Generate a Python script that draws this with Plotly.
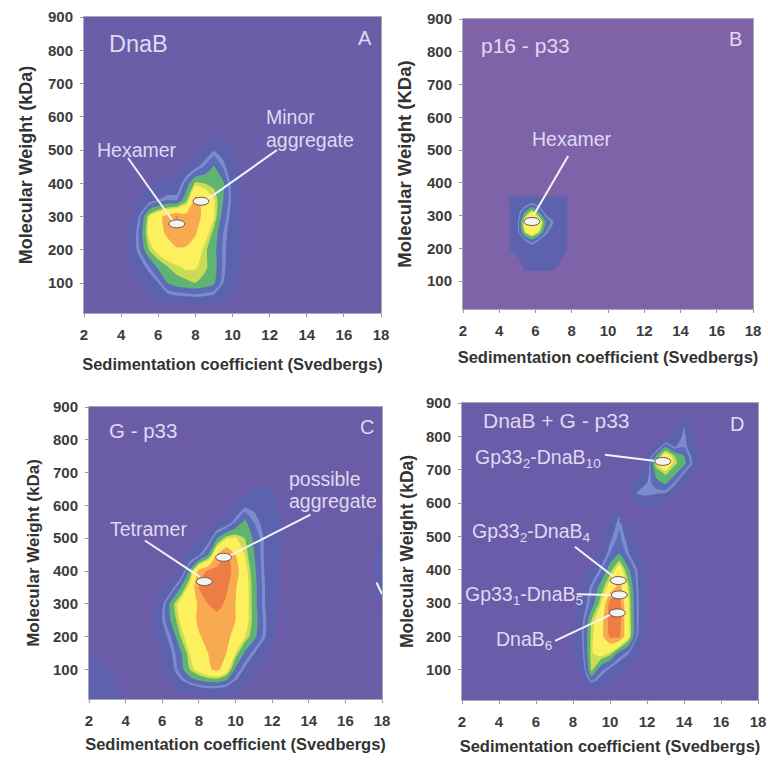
import plotly.graph_objects as go

# ---------- data (z = contour band index, rows listed top-down) ----------
A_x = [4, 4.5, 5, 5.5, 6, 6.5, 7, 7.5, 8, 8.5, 9, 9.5, 10, 10.5, 11]
A_y = [550, 500, 450, 400, 350, 300, 250, 200, 150, 100, 50, 20]
A_z = [
    [0, 0, 0, 0, 0, 0, 0, 0, 0, 0, .3, .2, 0, 0, 0],
    [0, 0, 0, 0, 0, 0, 0, .3, .8, 1.5, 2.4, 1.9, 1, .3, 0],
    [0, 0, 0, 0, 0, 0, .6, 1.2, 2.2, 3.1, 4.1, 2.9, 1.5, .6, 0],
    [0, 0, .2, .6, 1, 1.3, 1.5, 3.4, 5.2, 5, 4.7, 4.2, 2, 1, 0],
    [0, .2, 1, 2, 2.5, 3, 3, 4.7, 7.5, 6.5, 5.6, 4, 2.2, 1, .2],
    [0, .8, 2.7, 5.5, 6.7, 7.4, 8.1, 7.5, 7.6, 6.6, 5.6, 3.5, 2, 1, .2],
    [.2, 1.2, 3.3, 5.8, 6.6, 7.2, 7.6, 7.4, 7.1, 6.1, 4.7, 3, 1.8, 1, .2],
    [.2, 1.5, 3, 5, 6, 6.5, 6.9, 6.9, 6.5, 5.2, 4.4, 2.8, 1.8, 1, .1],
    [0, 1, 1.8, 3, 4.3, 5, 5.4, 5.7, 5.6, 5.2, 4.5, 2.8, 1.6, .8, 0],
    [0, .1, .6, 1.5, 2.5, 4, 4.6, 4.8, 5, 4.7, 4.2, 2.5, 1.5, .6, 0],
    [0, 0, .5, 1, 1.3, 1.6, 1.8, 1.9, 2, 1.9, 1.7, 1.2, .5, 0, 0],
    [0] * 15,
]

B_x = [4.4, 4.6, 5, 5.4, 5.8, 6.2, 6.6, 7, 7.4, 7.7, 7.95]
B_y = [365, 355, 335, 310, 280, 250, 225, 200, 170, 135, 115]
B_z = [
    [0] * 11,
    [0, 1.2, 1.3, 1.3, 1.3, 1.3, 1.3, 1.3, 1.3, 1.3, 0],
    [0, 1.2, 1.5, 2, 2.9, 2, 1.5, 1.3, 1.3, 1.3, 0],
    [0, 1.2, 1.8, 4, 5.7, 4, 2, 1.5, 1.3, 1.3, 0],
    [0, 1.2, 2.2, 6.1, 6.9, 6.4, 3.8, 2.5, 1.3, 1.3, 0],
    [0, 1.2, 1.9, 5.3, 6.5, 5.3, 2.8, 1.6, 1.3, 1.3, 0],
    [0, 1.2, 1.5, 2.5, 3.8, 2.5, 1.7, 1.3, 1.3, 1.3, 0],
    [0, 1.1, 1.3, 1.3, 1.5, 1.4, 1.3, 1.3, 1.3, 1.2, 0],
    [0, 0, .9, 1.3, 1.3, 1.3, 1.3, 1.3, 1.2, .5, 0],
    [0, 0, .4, 1.1, 1.2, 1.2, 1.2, 1.1, .6, 0, 0],
    [0] * 11,
]

C_x = [5, 5.5, 6, 6.5, 7, 7.5, 8, 8.5, 9, 9.5, 10, 10.5, 11, 11.5, 12, 12.5, 13]
C_y = [700, 650, 600, 550, 500, 450, 400, 350, 300, 250, 200, 150, 100, 70, 50, 20]
C_z = [
    [0] * 17,
    [0, 0, 0, 0, 0, 0, 0, 0, 0, 0, 0, .3, 1, 1.1, 1.1, .5, 0],
    [0, 0, 0, 0, 0, 0, 0, 0, 0, .2, 1.2, 2.2, 2.2, 1.3, 1.2, .8, 0],
    [0, 0, 0, 0, 0, 0, 0, 0, 1, 1.6, 3, 4.3, 3, 2.2, 1.2, 1, 0],
    [0, 0, 0, 0, 0, .3, 1, 1.8, 4, 5.4, 5.6, 5, 3.8, 2.6, 1.4, 1, .2],
    [0, 0, 0, 0, .5, 1.3, 2.3, 4, 7, 8.3, 7, 5.5, 4.1, 2.6, 1.4, 1, .2],
    [0, 0, 0, .4, 1.3, 4.2, 7.4, 8.2, 8.4, 8.5, 7.6, 6, 4.4, 2.7, 1.4, .9, 0],
    [0, 0, .8, 2, 4, 6, 8, 8.4, 8.5, 8.2, 7.1, 6.2, 4.6, 2.8, 1.5, .8, 0],
    [0, .8, 2.2, 4.5, 6.1, 6.6, 7.1, 8, 8.4, 7.8, 7, 6.2, 4.6, 2.8, 1.5, .6, 0],
    [0, 1, 2.5, 4.2, 5.7, 6.5, 7.2, 7.4, 7.6, 7.6, 7, 6.1, 4.7, 3, 1.6, .2, 0],
    [0, .8, 1.8, 3.1, 5, 6.3, 6.9, 7.3, 7.4, 7.3, 6.6, 5.6, 4.4, 2.9, 1.5, 0, 0],
    [0, 0, 1.2, 2.4, 3.8, 5.6, 6.5, 7, 7.5, 7, 5.5, 3.9, 2.6, 1.5, .6, 0, 0],
    [0, 0, 1, 2, 3.5, 5, 6, 6.8, 7.3, 6.2, 3.8, 2.3, 1.3, .5, 0, 0, 0],
    [0, 0, .5, 1.2, 2.5, 3.6, 4.3, 4.7, 4.8, 4.2, 2.7, 1.5, .5, 0, 0, 0, 0],
    [0, 0, 0, .8, 1.5, 2.2, 2.7, 3, 3, 2.6, 1.6, .8, 0, 0, 0, 0, 0],
    [0, 0, 0, 0, .4, .7, 1, 1, 1, .8, .4, 0, 0, 0, 0, 0, 0],
]
C_corner_x = [2, 2.5, 3, 3.5, 4]
C_corner_y = [170, 130, 90, 50, 10]
C_corner_z = [
    [0, 0, 0, 0, 0],
    [1.2, 1, .3, 0, 0],
    [1.4, 1.3, 1.1, .3, 0],
    [1.4, 1.4, 1.3, 1.1, 0],
    [1.4, 1.4, 1.3, 1.2, 0],
]
C_edge_x = [17, 17.4, 17.8, 18]
C_edge_y = [520, 480, 400, 320, 270]
C_edge_z = [
    [0, 0, 0, 0],
    [0, .4, 1.2, 1.3],
    [0, .6, 1.3, 1.4],
    [0, .5, 1.2, 1.3],
    [0, 0, 0, 0],
]

D_low_x = [7.5, 8, 8.5, 9, 9.5, 10, 10.5, 11, 11.5, 12, 12.5]
D_low_y = [600, 560, 500, 450, 400, 350, 300, 250, 200, 150, 100, 70, 40, 20]
D_low_z = [
    [0] * 11,
    [0, 0, 0, 0, 0, .8, 2.6, .8, 0, 0, 0],
    [0, 0, 0, 0, .6, 2.2, 3.2, 2, .7, 0, 0],
    [0, 0, 0, .4, 1.3, 3, 3.9, 2.6, 1.2, .4, 0],
    [0, 0, .6, 1.3, 2.8, 4.6, 6.3, 4.2, 2.4, 1, 0],
    [0, .3, 1.2, 2.8, 4.4, 6, 7.5, 5.2, 2.6, 1.1, 0],
    [0, .6, 1.7, 3.4, 5.4, 8.5, 8.5, 5.6, 2.7, 1.1, 0],
    [0, .8, 2.2, 5, 6.4, 8.5, 8.5, 5.8, 2.7, 1, 0],
    [0, .9, 2.6, 5.3, 6.5, 8.2, 8.2, 5.8, 2.5, .8, 0],
    [0, .7, 2.3, 5.4, 6, 5.4, 3.6, 2.6, 1.2, 0, 0],
    [0, .3, 1.5, 5.2, 3.3, 2.2, 1.4, .6, 0, 0, 0],
    [0, 0, .7, 3.3, 2, 1, .4, 0, 0, 0, 0],
    [0, 0, 0, .6, .4, 0, 0, 0, 0, 0, 0],
    [0] * 11,
]
D_high_x = [10.5, 11, 11.5, 12, 12.5, 13, 13.5, 14, 14.5, 15, 15.5]
D_high_y = [880, 860, 830, 800, 770, 740, 720, 690, 660, 630, 605, 570, 540]
D_high_z = [
    [0] * 11,
    [0, 0, 0, 0, 0, 0, 0, .4, 0, 0, 0],
    [0, 0, 0, 0, 0, 0, .8, 2.6, .6, 0, 0],
    [0, 0, 0, 0, 0, .5, 1.5, 2.8, 1.2, 0, 0],
    [0, 0, 0, 0, 1.3, 3.8, 2.4, 2.9, 1.6, .3, 0],
    [0, 0, 0, 1.2, 4.2, 6.5, 5, 4.1, 2, .5, 0],
    [0, 0, 0, 1.6, 5.6, 6.6, 5.2, 4.4, 2.3, .5, 0],
    [0, 0, .8, 2, 4.4, 5.2, 4.4, 2.6, 1.3, 0, 0],
    [0, 0, 1.5, 2.5, 3.6, 4.2, 2.8, 1.3, 0, 0, 0],
    [0, .8, 2.7, 2.7, 2.6, 2.5, 1.5, .5, 0, 0, 0],
    [0, .3, 1.1, 2, 1.5, 1, .5, 0, 0, 0, 0],
    [0, 0, .2, .6, .3, 0, 0, 0, 0, 0, 0],
    [0] * 11,
]

x_ticks = [2, 4, 6, 8, 10, 12, 14, 16, 18]
y_ticks = [100, 200, 300, 400, 500, 600, 700, 800, 900]

panel_letters = ["A", "B", "C", "D"]
panel_names = ["DnaB", "p16 - p33", "G - p33", "DnaB + G - p33"]
y_titles = ["Molecular Weight (kDa)", "Molecular Weight (KDa)", "Molecular Weight (kDa)", "Molecular Weight (kDa)"]
x_title = "Sedimentation coefficient (Svedbergs)"

# ellipse centres per panel
A_spots = [(7.0, 278), (8.3, 346)]
B_spots = [(5.8, 282)]
C_spots = [(8.3, 368), (9.35, 442)]
D_spots = [(12.85, 725), (10.45, 368), (10.5, 325), (10.4, 271)]

# leader lines (start, end) per panel
A_leaders = [((4.37, 476), (6.8, 285)), ((12.4, 500), (8.6, 350))]
B_leaders = [((7.8, 482), (5.9, 302))]
C_leaders = [((5.05, 493), (8.05, 382)), ((14.1, 572), (9.5, 442))]
D_leaders = [((9.72, 745), (12.7, 725)), ((8.1, 469), (10.25, 377)), ((8.2, 327), (10.2, 325)), ((7.03, 187), (10, 265))]
C_slash = [((17.7, 365), (18, 330))]

# labels: text, x, y per panel
A_labels = [("Hexamer", 4.86, 501), ("Minor", 13.1, 600), ("aggregate", 14.2, 530)]
B_labels = [("Hexamer", 8.0, 534)]
C_labels = [("Tetramer", 5.27, 528), ("possible", 14.9, 680), ("aggregate", 15.3, 612)]
D_labels = [
    ("Gp33<sub>2</sub>-DnaB<sub>10</sub>", 6.13, 735),
    ("Gp33<sub>2</sub>-DnaB<sub>4</sub>", 5.77, 512),
    ("Gp33<sub>1</sub>-DnaB<sub>5</sub>", 5.4, 322),
    ("DnaB<sub>6</sub>", 5.34, 187),
]

# ---------- style ----------
bg_colors = ["#6a5ea8", "#7f63a9", "#6b5ca8", "#6a5ca8"]
label_color = "#dfd9f0"
W, H = 768, 760
boxes = [(84, 381, 17, 313, 10), (463, 753, 19, 309, 15), (89, 382, 407, 699, 10), (462, 758, 403, 700, 10)]
name_pos = [(.077, .91), (.055, .91), (.06, .92), (.064, .94)]
name_size = [23.5, 21, 20.5, 21]
letter_pos = [(.946, .93), (.94, .93), (.95, .93), (.93, .93)]
x_standoff = [16, 13, 10, 11]
y_standoff = [10, 10, 9, 7]
y_title_size = [18, 18.5, 17, 17.5]

# band colours for levels of width 0.5 from 0 to 9
blue_out, ring, blue_in = "#5c62ae", "#7a8cca", "#5c6cb8"
green, lime, yellow = "#5eb470", "#c8dc56", "#fdf05e"
orange, red = "#f8aa50", "#ef7b45"
bands = [blue_out] * 3 + [ring] + [blue_in] * 2 + [green] * 2 + [lime] + [yellow] * 3 + [orange] * 2 + [red] * 2


def stepped(bg):
    cols = [bg, bg] + bands
    n = len(cols)
    out = []
    for i, c in enumerate(cols):
        out += [[i / n, c], [(i + 1) / n, c]]
    return out


fig = go.Figure()
shapes, annots = [], []


def add_blob(idx, xs, ys, zs):
    suffix = "" if idx == 0 else str(idx + 1)
    fig.add_trace(go.Contour(
        x=xs, y=ys[::-1], z=zs[::-1],
        xaxis="x" + suffix, yaxis="y" + suffix,
        autocontour=False, zmin=0, zmax=9,
        contours=dict(start=0, end=9, size=0.5, coloring="fill", showlines=False),
        colorscale=stepped(bg_colors[idx]), showscale=False,
        line=dict(width=0, smoothing=0.5), hoverinfo="skip",
    ))


add_blob(0, A_x, A_y, A_z)
add_blob(1, B_x, B_y, B_z)
add_blob(2, C_x, C_y, C_z)
add_blob(2, C_corner_x, C_corner_y, C_corner_z)
add_blob(2, C_edge_x, C_edge_y, C_edge_z)
add_blob(3, D_low_x, D_low_y, D_low_z)
add_blob(3, D_high_x, D_high_y, D_high_z)

spots = [A_spots, B_spots, C_spots, D_spots]
leaders = [A_leaders, B_leaders, C_leaders + C_slash, D_leaders]
labels = [A_labels, B_labels, C_labels, D_labels]
layout = {}

for i, (l, r, t, b, ymin) in enumerate(boxes):
    suffix = "" if i == 0 else str(i + 1)
    xa, ya = "x" + suffix, "y" + suffix
    layout["xaxis" + suffix] = dict(
        domain=[l / W, r / W], range=[2, 18], anchor=ya, tickvals=x_ticks, ticks="outside", ticklen=3,
        tickcolor="#9a96a6", linecolor="#aaa6b6", mirror=True, showgrid=False, zeroline=False, automargin=False,
        tickfont=dict(family="Liberation Sans", size=15, color="#3c3c3c", weight="bold"),
        ticklabelstandoff=5,
        title=dict(text=x_title, font=dict(family="Liberation Sans", size=16.5, color="#333333", weight="bold"),
                   standoff=x_standoff[i]),
    )
    layout["yaxis" + suffix] = dict(
        domain=[1 - b / H, 1 - t / H], range=[ymin, 900], anchor=xa, tickvals=y_ticks, ticks="outside", ticklen=3,
        tickcolor="#9a96a6", linecolor="#aaa6b6", mirror=True, showgrid=False, zeroline=False, automargin=False,
        tickfont=dict(family="Liberation Sans", size=15, color="#3c3c3c", weight="bold"),
        ticklabelstandoff=4,
        title=dict(text=y_titles[i], font=dict(family="Liberation Sans", size=y_title_size[i], color="#333333", weight="bold"),
                   standoff=y_standoff[i]),
    )
    shapes.append(dict(type="rect", xref=xa + " domain", yref=ya + " domain", x0=0, x1=1, y0=0, y1=1,
                       fillcolor=bg_colors[i], line=dict(width=0), layer="below"))
    for (x0, y0), (x1, y1) in leaders[i]:
        fig.add_trace(go.Scatter(x=[x0, x1], y=[y0, y1], xaxis=xa, yaxis=ya, mode="lines",
                                 line=dict(color="#f4f2fa", width=2), hoverinfo="skip", showlegend=False))
    for (cx, cy) in spots[i]:
        shapes.append(dict(type="circle", xref=xa, yref=ya, xsizemode="pixel", ysizemode="pixel",
                           xanchor=cx, yanchor=cy, x0=-8, x1=8, y0=-4, y1=4,
                           fillcolor="#f6f4f0", line=dict(color="#6a5a50", width=1)))
    for (txt, tx, ty) in labels[i]:
        annots.append(dict(text=txt, x=tx, y=ty, xref=xa, yref=ya, showarrow=False,
                           font=dict(family="Liberation Sans", size=19.5, color=label_color)))
    annots.append(dict(text=panel_names[i], x=name_pos[i][0], y=name_pos[i][1], xref=xa + " domain", yref=ya + " domain",
                       showarrow=False, xanchor="left", yanchor="middle",
                       font=dict(family="Liberation Sans", size=name_size[i], color=label_color)))
    annots.append(dict(text=panel_letters[i], x=letter_pos[i][0], y=letter_pos[i][1], xref=xa + " domain", yref=ya + " domain",
                       showarrow=False, xanchor="center", yanchor="middle",
                       font=dict(family="Liberation Sans", size=20, color=label_color)))

fig.update_layout(width=W, height=H, margin=dict(l=0, r=0, t=0, b=0), showlegend=False,
                  paper_bgcolor="white", plot_bgcolor="rgba(0,0,0,0)",
                  shapes=shapes, annotations=annots, **layout)
fig.write_html("out.html", config={"displayModeBar": False},
               post_script="document.body.style.margin='0';document.body.style.overflow='hidden';")
